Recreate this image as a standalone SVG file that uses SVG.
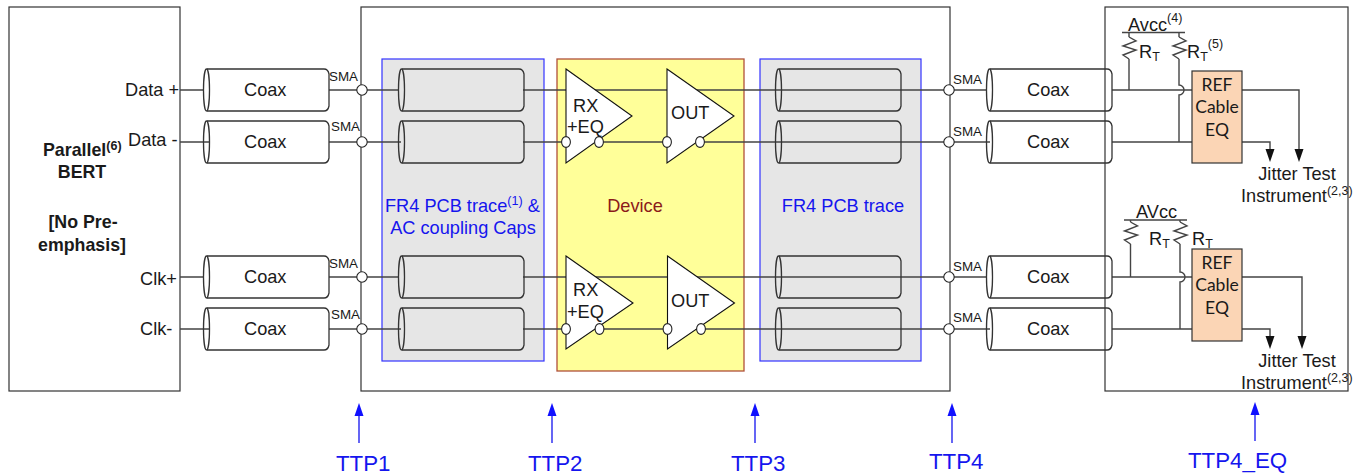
<svg xmlns="http://www.w3.org/2000/svg" xmlns:xlink="http://www.w3.org/1999/xlink" width="1364" height="476" viewBox="0 0 1364 476">
<style>
text{font-family:"Liberation Sans",Arial,sans-serif;font-size:18.2px;fill:#1a1a1a}
.box{fill:none;stroke:#333;stroke-width:1.2}
.blue{fill:#e6e6e6;stroke:#3333ff;stroke-width:1.2}
.dev{fill:#ffff99;stroke:#b0503a;stroke-width:1.3}
.cyl{fill:none;stroke:#333;stroke-width:1.3}
.w{stroke:#444;stroke-width:1.4;fill:none}
.tri{fill:#fff;stroke:#111;stroke-width:1.1}
.bub{fill:#fff;stroke:#222;stroke-width:1.1}
.eq{fill:#fbd5b5;stroke:#333;stroke-width:1.2}
.b{font-weight:bold;font-size:17.8px}
.sma{font-size:13.4px}
.bt{fill:#1515ee}
.ttp{font-size:22.3px;fill:#1515ee}
.eqt{font-family:Lato,"Open Sans",sans-serif;font-size:17.5px;text-anchor:middle}
.sup{font-size:12.5px}
.ar{stroke:#1515ee;stroke-width:1.3;fill:none}
</style>
<defs>
<g id="cy"><path class="cyl" d="M4,-21H121Q125,-21 126,-16V16Q125,21 121,21H4"/><ellipse class="cyl" cx="3.500" cy="0" rx="3" ry="21"/></g>
<path id="hb" d="M0,0l-4.500,-13h9z" fill="#111"/>
<path id="hu" d="M0,0l-4.500,13h9z" fill="#1010ff"/>
<polyline id="res" class="w" points="0,0 7,4 -6,9 7,13 -6,18 0,22"/>
</defs>

<g id="blocks">
<rect id="bert" class="box" x="9" y="7" width="171" height="384"/>
<rect id="board" class="box" x="361" y="7" width="589" height="384"/>
<rect id="eqbox" class="box" x="1105" y="7" width="243" height="384"/>
<rect id="trace1" class="blue" x="382" y="59" width="162" height="302"/>
<rect id="device" class="dev" x="557" y="59" width="187" height="312"/>
<rect id="trace2" class="blue" x="760" y="59" width="161" height="302"/>
</g>

<g id="connectors">
<path class="w" d="M180,90H203M329,90H398M523,90H986M180,142H209M329,142H401M523,142H990M180,277H203M329,277H398M523,277H986M180,329H209M329,329H401M523,329H990"/>
<path class="w" d="M1112,90H1192M1112,142H1192M1112,277H1192M1112,329H1192"/>
<path class="w" d="M1242,90H1299V151M1242,142H1270V149M1242,277H1302V337M1242,329H1270V337"/>
<path class="w" d="M1122,32.500H1185M1129,32.500V37M1129,59V90M1179,32.500V37M1179,59V85A5,5 0 0 1 1179,95V142"/>
<path class="w" d="M1124,220H1187M1130.500,220V222M1130.500,244V277M1180,220V222M1180,244V272A5,5 0 0 1 1180,282V329"/>
<use xlink:href="#res" href="#res" x="1129" y="37"/>
<use xlink:href="#res" href="#res" x="1179" y="37"/>
<use xlink:href="#res" href="#res" x="1130.500" y="222"/>
<use xlink:href="#res" href="#res" x="1180" y="222"/>
<use xlink:href="#hb" href="#hb" x="1299" y="162"/>
<use xlink:href="#hb" href="#hb" x="1270" y="162"/>
<use xlink:href="#hb" href="#hb" x="1302" y="349"/>
<use xlink:href="#hb" href="#hb" x="1270" y="349"/>
<path class="ar" d="M359,443V412M552,443V412M755,443V412M952,443V412M1255,441V412"/>
<use xlink:href="#hu" href="#hu" x="359" y="403"/>
<use xlink:href="#hu" href="#hu" x="552" y="403"/>
<use xlink:href="#hu" href="#hu" x="755" y="403"/>
<use xlink:href="#hu" href="#hu" x="952" y="403"/>
<use xlink:href="#hu" href="#hu" x="1255" y="402"/>
</g>

<g id="coax-left">
<use xlink:href="#cy" href="#cy" x="203" y="90"/><text x="244" y="96">Coax</text>
<use xlink:href="#cy" href="#cy" x="203" y="142"/><text x="244" y="148">Coax</text>
<use xlink:href="#cy" href="#cy" x="203" y="277"/><text x="244" y="283">Coax</text>
<use xlink:href="#cy" href="#cy" x="203" y="329"/><text x="244" y="335">Coax</text>
</g>
<g id="coax-right">
<use xlink:href="#cy" href="#cy" x="986" y="90"/><text x="1027" y="96">Coax</text>
<use xlink:href="#cy" href="#cy" x="986" y="142"/><text x="1027" y="148">Coax</text>
<use xlink:href="#cy" href="#cy" x="986" y="277"/><text x="1027" y="283">Coax</text>
<use xlink:href="#cy" href="#cy" x="986" y="329"/><text x="1027" y="335">Coax</text>
</g>
<g id="traces-left">
<use xlink:href="#cy" href="#cy" x="398" y="90"/>
<use xlink:href="#cy" href="#cy" x="398" y="142"/>
<use xlink:href="#cy" href="#cy" x="398" y="277"/>
<use xlink:href="#cy" href="#cy" x="398" y="329"/>
</g>
<g id="traces-right">
<use xlink:href="#cy" href="#cy" x="775" y="90"/>
<use xlink:href="#cy" href="#cy" x="775" y="142"/>
<use xlink:href="#cy" href="#cy" x="775" y="277"/>
<use xlink:href="#cy" href="#cy" x="775" y="329"/>
</g>

<g id="sma">
<circle class="bub" cx="362" cy="90" r="5.200"/><circle class="bub" cx="362" cy="142" r="5.200"/><circle class="bub" cx="362" cy="277" r="5.200"/><circle class="bub" cx="362" cy="329" r="5.200"/>
<circle class="bub" cx="949" cy="90" r="5.200"/><circle class="bub" cx="949" cy="142" r="5.200"/><circle class="bub" cx="949" cy="277" r="5.200"/><circle class="bub" cx="949" cy="329" r="5.200"/>
<text class="sma" x="329" y="81">SMA</text><text class="sma" x="331" y="131">SMA</text><text class="sma" x="329" y="268">SMA</text><text class="sma" x="331" y="319">SMA</text>
<text class="sma" x="953" y="84">SMA</text><text class="sma" x="953" y="136">SMA</text><text class="sma" x="953" y="271">SMA</text><text class="sma" x="953" y="322">SMA</text>
</g>

<g id="rx1">
<polygon class="tri" points="566,69 632,116 566,163"/>
<ellipse class="bub" cx="566" cy="142" rx="4.400" ry="5.400"/><ellipse class="bub" cx="599" cy="142" rx="4.400" ry="5.400"/>
<text x="573" y="112">RX</text><text x="567" y="133">+EQ</text>
</g>
<g id="out1">
<polygon class="tri" points="667,69 734,116 667,163"/>
<ellipse class="bub" cx="667" cy="142" rx="4.400" ry="5.400"/><ellipse class="bub" cx="700" cy="142" rx="4.400" ry="5.400"/>
<text x="671" y="119">OUT</text>
</g>
<g id="rx2">
<polygon class="tri" points="566,256 633,303 566,349"/>
<ellipse class="bub" cx="566" cy="329" rx="4.400" ry="5.400"/><ellipse class="bub" cx="599.500" cy="329" rx="4.400" ry="5.400"/>
<text x="573" y="296">RX</text><text x="567" y="318">+EQ</text>
</g>
<g id="out2">
<polygon class="tri" points="667.500,256 734.500,303 667.500,349"/>
<ellipse class="bub" cx="667.500" cy="329" rx="4.400" ry="5.400"/><ellipse class="bub" cx="701" cy="329" rx="4.400" ry="5.400"/>
<text x="671" y="307">OUT</text>
</g>

<g id="eq1"><rect class="eq" x="1192" y="71" width="50" height="92"/>
<text class="eqt" x="1217" y="91">REF</text><text class="eqt" x="1217" y="113">Cable</text><text class="eqt" x="1217" y="136">EQ</text></g>
<g id="eq2"><rect class="eq" x="1192" y="249" width="50" height="92"/>
<text class="eqt" x="1217" y="269">REF</text><text class="eqt" x="1217" y="291">Cable</text><text class="eqt" x="1217" y="314">EQ</text></g>

<g id="labels">
<text x="125" y="96">Data +</text><text x="128" y="146">Data -</text><text x="140" y="285">Clk+</text><text x="140" y="335">Clk-</text>
<text class="b" x="43" y="156">Parallel<tspan class="sup" dy="-6">(6)</tspan></text>
<text class="b" x="82" y="178" text-anchor="middle">BERT</text>
<text class="b" x="83" y="228" text-anchor="middle">[No Pre-</text>
<text class="b" x="82" y="251" text-anchor="middle">emphasis]</text>
<text class="bt" x="385" y="212">FR4 PCB trace<tspan class="sup" dy="-7">(1)</tspan><tspan dy="7"> &amp;</tspan></text>
<text class="bt" x="463" y="234" text-anchor="middle">AC coupling Caps</text>
<text x="635" y="212" text-anchor="middle" style="fill:#8b1a1a">Device</text>
<text class="bt" x="843" y="212" text-anchor="middle">FR4 PCB trace</text>
<text x="1128" y="31">Avcc<tspan class="sup" dy="-9">(4)</tspan></text>
<text x="1139" y="58">R<tspan class="sup" dy="3">T</tspan></text>
<text x="1187" y="58">R<tspan class="sup" dy="3">T</tspan><tspan class="sup" dy="-13">(5)</tspan></text>
<text x="1136" y="218">AVcc</text>
<text x="1149" y="245">R<tspan class="sup" dy="3">T</tspan></text>
<text x="1192" y="245">R<tspan class="sup" dy="3">T</tspan></text>
<text x="1297" y="180" text-anchor="middle">Jitter Test</text>
<text x="1241" y="202">Instrument<tspan class="sup" dy="-7">(2,3)</tspan></text>
<text x="1297" y="367" text-anchor="middle">Jitter Test</text>
<text x="1241" y="389">Instrument<tspan class="sup" dy="-7">(2,3)</tspan></text>
<text class="ttp" x="336" y="471">TTP1</text>
<text class="ttp" x="528" y="471">TTP2</text>
<text class="ttp" x="731" y="471">TTP3</text>
<text class="ttp" x="929" y="469">TTP4</text>
<text class="ttp" x="1188" y="468">TTP4_EQ</text>
</g>
</svg>
